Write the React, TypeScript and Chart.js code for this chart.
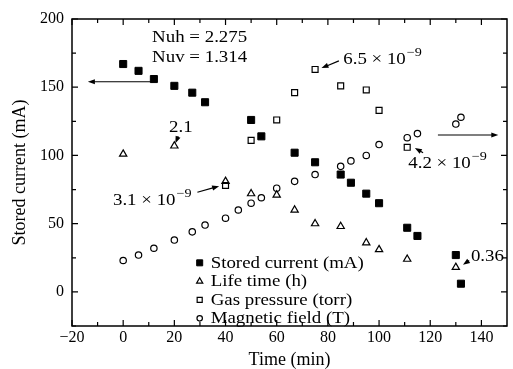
import React, { useEffect, useRef } from "react";
import { Chart, registerables } from "chart.js";
import { drawPoint } from "chart.js/helpers";

Chart.register(...registerables);

// ---- data ----
const TIME_CURRENT = [0, 6, 12, 20, 27, 32, 50, 54, 67, 75, 85, 89, 95, 100, 111, 115, 130, 132];
const STORED_CURRENT = [167, 162, 156, 151, 146, 139, 126, 114, 102, 95, 86, 80, 72, 65, 47, 41, 27, 6];

const TIME_LIFE = [0, 20, 40, 50, 60, 67, 75, 85, 95, 100, 111, 130];
const LIFE_TIME = [101, 107, 81, 72, 71, 60, 50, 48, 36, 31, 24, 18];

const TIME_GAS = [40, 50, 60, 67, 75, 85, 95, 100, 111];
const GAS_PRESSURE = [78, 111, 126, 146, 163, 151, 148, 133, 106];

const TIME_FIELD = [0, 6, 12, 20, 27, 32, 40, 45, 50, 54, 60, 67, 75, 85, 89, 95, 100, 111, 115, 130, 132];
const MAGNETIC_FIELD = [23, 27, 32, 38, 44, 49, 54, 60, 65, 69, 76, 81, 86, 92, 96, 100, 108, 113, 116, 123, 128];

const SERIES_LABELS = ["Stored current (mA)", "Life time (h)", "Gas pressure (torr)", "Magnetic field (T)"];

const X_TICKS = [-20, 0, 20, 40, 60, 80, 100, 120, 140];
const Y_TICKS = [0, 50, 100, 150, 200];
const X_MIN = -20;
const X_MAX = 150;
const Y_MIN = -25;
const Y_MAX = 200;

const X_TITLE = "Time (min)";
const Y_TITLE = "Stored current (mA)";

// annotations (data coordinates)
const NOTES = [
  { text: "Nuh = 2.275", sup: "", x: 11.3, y: 183 },
  { text: "Nuv = 1.314", sup: "", x: 11.3, y: 168.2 },
  { text: "2.1", sup: "", x: 17.9, y: 117 },
  { text: "6.5 × 10", sup: "\u22129", x: 86, y: 167 },
  { text: "3.1 × 10", sup: "\u22129", x: -4, y: 64 },
  { text: "4.2 × 10", sup: "\u22129", x: 111.4, y: 91 },
  { text: "0.36", sup: "", x: 135.9, y: 22.3 },
];
const ARROWS = [
  { x1: 11.7, y1: 154, x2: -13.8, y2: 154 },
  { x1: 123, y1: 115, x2: 146.6, y2: 115 },
  { x1: 21.5, y1: 114, x2: 20.4, y2: 109 },
  { x1: 84.3, y1: 169.3, x2: 77.5, y2: 164 },
  { x1: 29, y1: 73, x2: 37.5, y2: 77.5 },
  { x1: 117.2, y1: 102, x2: 114, y2: 105.5 },
  { x1: 135.2, y1: 23, x2: 132.8, y2: 19.8 },
];

const FONT = '"Liberation Serif", "Times New Roman", serif';
const STRETCH = 1.18;

function pts(xs: number[], ys: number[]) {
  return xs.map((x, i) => ({ x, y: ys[i] }));
}

function stretchedText(ctx: CanvasRenderingContext2D, text: string, x: number, y: number, size: number) {
  ctx.save();
  ctx.translate(x, y);
  ctx.scale(STRETCH, 1);
  ctx.font = `${size}px ${FONT}`;
  ctx.textBaseline = "alphabetic";
  ctx.textAlign = "left";
  ctx.fillText(text, 0, 0);
  const w = ctx.measureText(text).width * STRETCH;
  ctx.restore();
  return w;
}

const framePlugin = {
  id: "frame",
  afterDraw(chart: any) {
    const { ctx, chartArea: a, scales } = chart;
    const xs = scales.x;
    const ys = scales.y;
    ctx.save();
    ctx.strokeStyle = "#000";
    ctx.lineWidth = 1.5;
    ctx.strokeRect(a.left, a.top, a.right - a.left, a.bottom - a.top);
    ctx.lineWidth = 1.2;
    ctx.beginPath();
    for (let v = X_MIN; v <= 140; v += 10) {
      const p = xs.getPixelForValue(v);
      const len = v % 20 === 0 ? 6 : 4;
      ctx.moveTo(p, a.bottom);
      ctx.lineTo(p, a.bottom - len);
      ctx.moveTo(p, a.top);
      ctx.lineTo(p, a.top + len);
    }
    for (let v = Y_MIN; v <= Y_MAX; v += 25) {
      const p = ys.getPixelForValue(v);
      const len = v % 50 === 0 ? 6 : 4;
      ctx.moveTo(a.left, p);
      ctx.lineTo(a.left + len, p);
      ctx.moveTo(a.right, p);
      ctx.lineTo(a.right - len, p);
    }
    ctx.stroke();
    ctx.restore();
  },
};

const notesPlugin = {
  id: "notes",
  afterDatasetsDraw(chart: any) {
    const { ctx, scales } = chart;
    const xs = scales.x;
    const ys = scales.y;
    ctx.save();
    ctx.fillStyle = "#000";
    ctx.strokeStyle = "#000";
    for (const n of NOTES) {
      const px = xs.getPixelForValue(n.x);
      const py = ys.getPixelForValue(n.y);
      const w = stretchedText(ctx, n.text, px, py, 16);
      if (n.sup) stretchedText(ctx, n.sup, px + w + 1, py - 8, 12);
    }
    for (const ar of ARROWS) {
      const x1 = xs.getPixelForValue(ar.x1);
      const y1 = ys.getPixelForValue(ar.y1);
      const x2 = xs.getPixelForValue(ar.x2);
      const y2 = ys.getPixelForValue(ar.y2);
      const ang = Math.atan2(y2 - y1, x2 - x1);
      const hl = 7;
      const hw = 2.6;
      ctx.lineWidth = 1.2;
      ctx.beginPath();
      ctx.moveTo(x1, y1);
      ctx.lineTo(x2 - Math.cos(ang) * hl * 0.8, y2 - Math.sin(ang) * hl * 0.8);
      ctx.stroke();
      ctx.beginPath();
      ctx.moveTo(x2, y2);
      ctx.lineTo(x2 - Math.cos(ang) * hl - Math.sin(ang) * hw, y2 - Math.sin(ang) * hl + Math.cos(ang) * hw);
      ctx.lineTo(x2 - Math.cos(ang) * hl + Math.sin(ang) * hw, y2 - Math.sin(ang) * hl - Math.cos(ang) * hw);
      ctx.closePath();
      ctx.fill();
    }
    // legend
    const lx = xs.getPixelForValue(29.9);
    const ly = ys.getPixelForValue(21.3);
    chart.data.datasets.forEach((ds: any, i: number) => {
      const y = ly + i * 18.5;
      ctx.fillStyle = ds.pointBackgroundColor;
      ctx.strokeStyle = "#000";
      ctx.lineWidth = ds.pointBorderWidth;
      drawPoint(ctx, { pointStyle: ds.pointStyle, radius: ds.pointRadius * 0.85, rotation: 0, borderWidth: ds.pointBorderWidth } as any, lx, y);
      ctx.fillStyle = "#000";
      stretchedText(ctx, ds.label, lx + 11, y + 5, 16);
    });
    ctx.restore();
  },
};

export default function App() {
  const ref = useRef<HTMLCanvasElement | null>(null);
  useEffect(() => {
    if (!ref.current) return;
    const chart = new Chart(ref.current, {
      type: "scatter",
      data: {
        datasets: [
          {
            label: SERIES_LABELS[0],
            data: pts(TIME_CURRENT, STORED_CURRENT),
            pointStyle: "rect",
            pointRadius: 5,
            pointBackgroundColor: "#000",
            pointBorderColor: "#000",
            pointBorderWidth: 1,
          },
          {
            label: SERIES_LABELS[1],
            data: pts(TIME_LIFE, LIFE_TIME),
            pointStyle: "triangle",
            pointRadius: 4.2,
            pointBackgroundColor: "rgba(0,0,0,0)",
            pointBorderColor: "#000",
            pointBorderWidth: 1.2,
          },
          {
            label: SERIES_LABELS[2],
            data: pts(TIME_GAS, GAS_PRESSURE),
            pointStyle: "rect",
            pointRadius: 4.2,
            pointBackgroundColor: "rgba(0,0,0,0)",
            pointBorderColor: "#000",
            pointBorderWidth: 1.2,
          },
          {
            label: SERIES_LABELS[3],
            data: pts(TIME_FIELD, MAGNETIC_FIELD),
            pointStyle: "circle",
            pointRadius: 3.2,
            pointBackgroundColor: "rgba(0,0,0,0)",
            pointBorderColor: "#000",
            pointBorderWidth: 1.2,
          },
        ] as any,
      },
      options: {
        animation: false,
        responsive: true,
        maintainAspectRatio: false,
        devicePixelRatio: 1,
        layout: { padding: { top: 19, right: 1.5, left: 0, bottom: 0 } },
        plugins: { legend: { display: false }, tooltip: { enabled: false } },
        scales: {
          x: {
            type: "linear",
            min: X_MIN,
            max: X_MAX,
            grid: { display: false, drawTicks: false },
            border: { display: false },
            afterBuildTicks: (s: any) => {
              s.ticks = X_TICKS.map((v) => ({ value: v }));
            },
            afterFit: (s: any) => {
              s.height = 43;
            },
            ticks: {
              padding: 2,
              color: "#000",
              maxRotation: 0,
              font: { family: FONT, size: 16 },
              callback: (v: any) => String(v).replace("-", "\u2212"),
            },
            title: {
              display: true,
              text: X_TITLE,
              color: "#000",
              font: { family: FONT, size: 18, lineHeight: 1 },
              padding: { top: 0, bottom: 0 },
            },
          },
          y: {
            type: "linear",
            min: Y_MIN,
            max: Y_MAX,
            grid: { display: false, drawTicks: false },
            border: { display: false },
            afterBuildTicks: (s: any) => {
              s.ticks = Y_TICKS.map((v) => ({ value: v }));
            },
            afterFit: (s: any) => {
              s.width = 72;
            },
            ticks: {
              padding: 8,
              color: "#000",
              font: { family: FONT, size: 16 },
            },
            title: {
              display: true,
              text: Y_TITLE,
              color: "#000",
              font: { family: FONT, size: 18, lineHeight: 1 },
              padding: { top: 11, bottom: 0 },
            },
          },
        },
      },
      plugins: [notesPlugin, framePlugin],
    });
    return () => chart.destroy();
  }, []);
  return (
    <div style={{ position: "fixed", left: 0, top: 0, width: 513, height: 369, background: "#fff" }}>
      <canvas ref={ref} />
    </div>
  );
}
